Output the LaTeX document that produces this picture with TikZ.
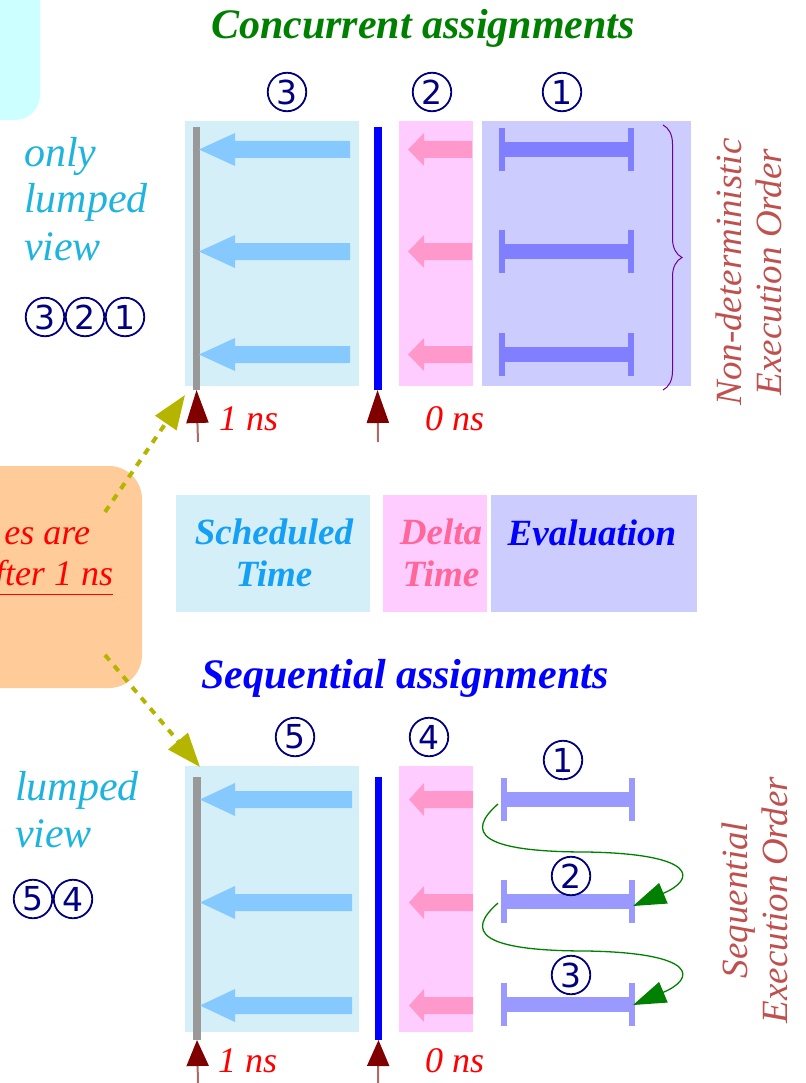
\documentclass[tikz,border=0pt]{standalone}
\usepackage{fontspec}
\setmainfont{Liberation Serif}
\newfontfamily\circfont{DejaVu Sans}
\usetikzlibrary{arrows.meta,decorations.pathreplacing}
\definecolor{cyanbg}{RGB}{204,255,255}
\definecolor{orangebg}{RGB}{255,204,153}
\definecolor{schedbg}{RGB}{212,239,247}
\definecolor{pinkbg}{RGB}{255,204,255}
\definecolor{evalbg}{RGB}{204,204,255}
\definecolor{schedarr}{RGB}{133,201,255}
\definecolor{pinkarr}{RGB}{255,153,204}
\definecolor{ibartop}{RGB}{127,127,255}
\definecolor{ibarbot}{RGB}{153,153,255}
\definecolor{graybar}{RGB}{153,153,153}
\definecolor{navycol}{RGB}{0,0,128}
\definecolor{lumpedcol}{RGB}{30,180,222}
\definecolor{schedtxt}{RGB}{20,160,245}
\definecolor{deltatxt}{RGB}{255,102,153}
\definecolor{ordercol}{RGB}{192,80,77}
\definecolor{olivecol}{RGB}{181,181,0}
\definecolor{darkredcol}{RGB}{128,0,0}
\definecolor{shaftcol}{RGB}{176,104,104}
\definecolor{greencol}{RGB}{0,128,0}
\definecolor{bracecol}{RGB}{110,0,150}
% left-pointing fat arrow: colour, x tip, x tail, y, head length
\newcommand\fatarr[5]{%
  \fill[#1] (#2,#4) -- (#2+#5,#4-16.5) -- (#2+#5,#4-8.5) -- (#3,#4-8.5)
    -- (#3,#4+8.5) -- (#2+#5,#4+8.5) -- (#2+#5,#4+16.5) -- cycle;}
% I-bar: colour, x left cap, x right cap, y
\newcommand\ibar[4]{%
  \draw[#1,line width=15pt] (#2,#4) -- (#3,#4);
  \draw[#1,line width=6pt] (#2,#4-21.5) -- (#2,#4+21.5);
  \draw[#1,line width=6pt] (#3,#4-21.5) -- (#3,#4+21.5);}
\begin{document}
\begin{tikzpicture}[x=1pt,y=-1pt,
  plain/.style={inner sep=0pt,outer sep=0pt},
  panel/.style={plain,minimum width=#1},
  circnum/.style={plain,circle,draw=navycol,line width=1.8pt,minimum size=38.5pt,
    text=navycol,font=\circfont\fontsize{33}{33}\selectfont},
  lumped/.style={plain,text=lumpedcol,anchor=base west,font=\itshape\fontsize{42}{47}\selectfont},
  nslabel/.style={plain,text=red,anchor=base west,font=\itshape\fontsize{36}{40}\selectfont},
  legendtxt/.style={plain,align=center,font=\bfseries\itshape\fontsize{37}{42}\selectfont},
  titletxt/.style={plain,anchor=base,font=\bfseries\itshape\fontsize{42}{48}\selectfont},
  ordertxt/.style={plain,rotate=90,align=center,text=ordercol,font=\itshape\fontsize{37}{40}\selectfont},
  upshaft/.style={shaftcol,line width=2pt},
  olivearrow/.style={olivecol,line width=4pt,dash pattern=on 7pt off 7pt,
    -{Triangle[length=34pt,width=25pt,color=olivecol]}},
  greenarrow/.style={greencol,line width=1.3pt,-{Triangle[length=33pt,width=22pt]}}
]
\useasboundingbox (0,0) rectangle (805,1083);
\clip (0,0) rectangle (805,1083);

% corner boxes
\node[plain,fill=cyanbg,rounded corners=25pt,minimum width=120pt,minimum height=170pt,anchor=south east] (note) at (40,120) {};
\node[plain,fill=orangebg,rounded corners=33pt,minimum width=260pt,minimum height=222pt,anchor=north east] (remark) at (142,466) {};
\node[plain,text=red,anchor=base east,font=\itshape\fontsize{36}{40}\selectfont] (rem1) at (90,544) {es are};
\node[plain,text=red,anchor=base east,font=\itshape\fontsize{36}{40}\selectfont] (rem2) at (113,585) {\underline{fter 1 ns}};

% titles
\node[titletxt,text=greencol] (title1) at (423,39) {Concurrent assignments};
\node[titletxt,text=blue] (title2) at (405,688) {Sequential assignments};

% ===== concurrent section =====
\node[panel=174pt,fill=schedbg,minimum height=265pt] (sched1) at (272,253.5) {};
\node[panel=74pt,fill=pinkbg,minimum height=265pt] (delta1) at (436,253.5) {};
\node[panel=209pt,fill=evalbg,minimum height=265pt] (eval1) at (586.5,253.5) {};
\node[panel=7pt,fill=graybar,minimum height=263pt] (gray1) at (196.5,258.5) {};
\node[panel=8pt,fill=blue,minimum height=263pt] (blue1) at (377.5,258.5) {};
\foreach \yy in {149.5,251.5,354.5}{
  \fatarr{schedarr}{199}{350}{\yy}{36}
  \fatarr{pinkarr}{408}{472}{\yy}{16}
  \ibar{ibartop}{502}{630.5}{\yy}
}
\draw[bracecol,line width=1pt,decorate,decoration={brace,amplitude=19pt}] (663,125) -- (663,390);
\node[circnum] (c3a) at (287,92) {3};
\node[circnum] (c2a) at (432,92) {2};
\node[circnum] (c1a) at (562,92) {1};
\node[ordertxt] (order1) at (749,272) {Non-deterministic\\Execution Order};
\node[lumped] (only) at (24,167) {only};
\node[lumped] (lump1) at (24,213) {lumped};
\node[lumped] (view1) at (24,260) {view};
\node[circnum] (seqa3) at (45,317) {3};
\node[circnum] (seqa2) at (85,317) {2};
\node[circnum] (seqa1) at (125,317) {1};
\coordinate (up1) at (198,442);
\coordinate (up2) at (378,442);
\draw[upshaft,-{Triangle[length=33pt,width=22pt,color=darkredcol]}] (up1) -- (gray1.south);
\draw[upshaft,-{Triangle[length=33pt,width=22pt,color=darkredcol]}] (up2) -- (blue1.south);
\node[nslabel] (ns1a) at (219,430) {1 ns};
\node[nslabel] (ns0a) at (425,430) {0 ns};

% ===== legend =====
\node[panel=194pt,fill=schedbg,minimum height=117pt] (legS) at (273,553.5) {};
\node[panel=104pt,fill=pinkbg,minimum height=117pt] (legD) at (435,553.5) {};
\node[panel=206pt,fill=evalbg,minimum height=117pt] (legE) at (594,553.5) {};
\node[legendtxt,text=schedtxt] (legStxt) at (274,553) {Scheduled\\Time};
\node[legendtxt,text=deltatxt] (legDtxt) at (441,553) {Delta\\Time};
\node[legendtxt,text=blue,anchor=base] (legEtxt) at (592,545) {Evaluation};

% ===== sequential section =====
\node[panel=174pt,fill=schedbg,minimum height=266pt] (sched2) at (272,899) {};
\node[panel=74pt,fill=pinkbg,minimum height=266pt] (delta2) at (436,899) {};
\node[panel=8pt,fill=graybar,minimum height=263pt] (gray2) at (197,908.5) {};
\node[panel=7pt,fill=blue,minimum height=263pt] (blue2) at (378.5,908.5) {};
\foreach \yy in {799.5,902.5,1005.5}{
  \fatarr{schedarr}{200}{352}{\yy}{35}
  \fatarr{pinkarr}{409}{473}{\yy}{15}
}
\foreach \yy in {799.5,901.5,1004.5}{
  \ibar{ibarbot}{503.5}{631.5}{\yy}
}
\node[circnum] (c5b) at (295,737) {5};
\node[circnum] (c4b) at (429,737) {4};
\node[circnum] (c1b) at (563,760) {1};
\node[circnum] (c2b) at (571,876) {2};
\node[circnum] (c3b) at (571,975) {3};
\coordinate (s1) at (498,804);
\coordinate (t1) at (633,906);
\coordinate (s2) at (498,903);
\coordinate (t2) at (633,1005);
\draw[greenarrow] (s1) .. controls (466,832) and (478,852) .. (587,852) .. controls (700,854) and (695,880) .. (t1);
\draw[greenarrow] (s2) .. controls (466,931) and (478,951) .. (587,951) .. controls (700,953) and (695,979) .. (t2);
\node[ordertxt] (order2) at (755,900) {Sequential\\Execution Order};
\node[lumped] (lump2) at (15,800) {lumped};
\node[lumped] (view2) at (15,847) {view};
\node[circnum] (seqb5) at (33,899) {5};
\node[circnum] (seqb4) at (73,899) {4};
\coordinate (up3) at (198,1083);
\coordinate (up4) at (378,1083);
\draw[upshaft,-{Triangle[length=26pt,width=22pt,color=darkredcol]}] (up3) -- (gray2.south);
\draw[upshaft,-{Triangle[length=26pt,width=22pt,color=darkredcol]}] (up4) -- (blue2.south);
\node[nslabel] (ns1b) at (218,1072) {1 ns};
\node[nslabel] (ns0b) at (425,1072) {0 ns};

% ===== dashed pointers from remark =====
\coordinate (o1) at (105,512);
\coordinate (o1t) at (185,395);
\coordinate (o2) at (105,655);
\coordinate (o2t) at (200,767);
\draw[olivearrow] (o1) -- (o1t);
\draw[olivearrow] (o2) -- (o2t);
\end{tikzpicture}
\end{document}
